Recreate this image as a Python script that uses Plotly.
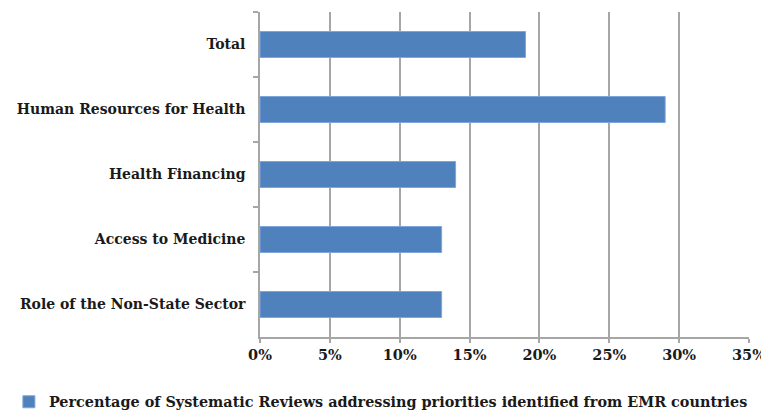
import plotly.graph_objects as go

categories = ["Total", "Human Resources for Health", "Health Financing",
              "Access to Medicine", "Role of the Non-State Sector"]
values = [0.19, 0.29, 0.14, 0.13, 0.13]
series_name = "Percentage of Systematic Reviews addressing priorities identified from EMR countries"
x_ticks = [0, 0.05, 0.10, 0.15, 0.20, 0.25, 0.30, 0.35]
x_tick_labels = ["0%", "5%", "10%", "15%", "20%", "25%", "30%", "35%"]

FONT = "DejaVu Serif"

fig = go.Figure()
fig.add_trace(go.Bar(
    y=categories, x=values, orientation="h", name=series_name,
    marker=dict(color="#4F81BD", line=dict(color="#7EA6DA", width=1)),
    showlegend=True,
))

# page body has an 8px margin, so the figure is 761x404 placed at (8, 8)
fig.update_layout(
    width=761, height=404,
    margin=dict(l=252, r=20, t=4, b=75),
    plot_bgcolor="white", paper_bgcolor="white",
    bargap=0.6,
    font=dict(family=FONT, size=14, color="#1a1a1a"),
    legend=dict(
        orientation="h", xref="container", yref="container",
        x=0.49, xanchor="center", y=0.025, yanchor="middle",
        font=dict(family=FONT, size=14.4, weight="bold", color="#1a1a1a"),
        itemwidth=30,
    ),
    xaxis=dict(
        range=[0, 0.35], tickvals=x_ticks, ticktext=x_tick_labels,
        showgrid=True, gridcolor="#A6A6A6", gridwidth=1.5,
        showline=True, linecolor="#A6A6A6", linewidth=1.5,
        ticks="outside", ticklen=4, tickcolor="#A6A6A6", tickwidth=1.5,
        tickfont=dict(family=FONT, size=14.5, weight="bold"),
        zeroline=False, fixedrange=True, automargin=False,
    ),
    yaxis=dict(
        autorange="reversed",
        showline=True, linecolor="#A6A6A6", linewidth=1.5,
        ticks="outside", ticklen=5, tickcolor="#A6A6A6", tickwidth=1.5,
        tickson="boundaries", showgrid=False,
        tickfont=dict(family=FONT, size=14, weight="bold"),
        ticklabelstandoff=10, automargin=False,
    ),
)

fig.write_html("out.html")
